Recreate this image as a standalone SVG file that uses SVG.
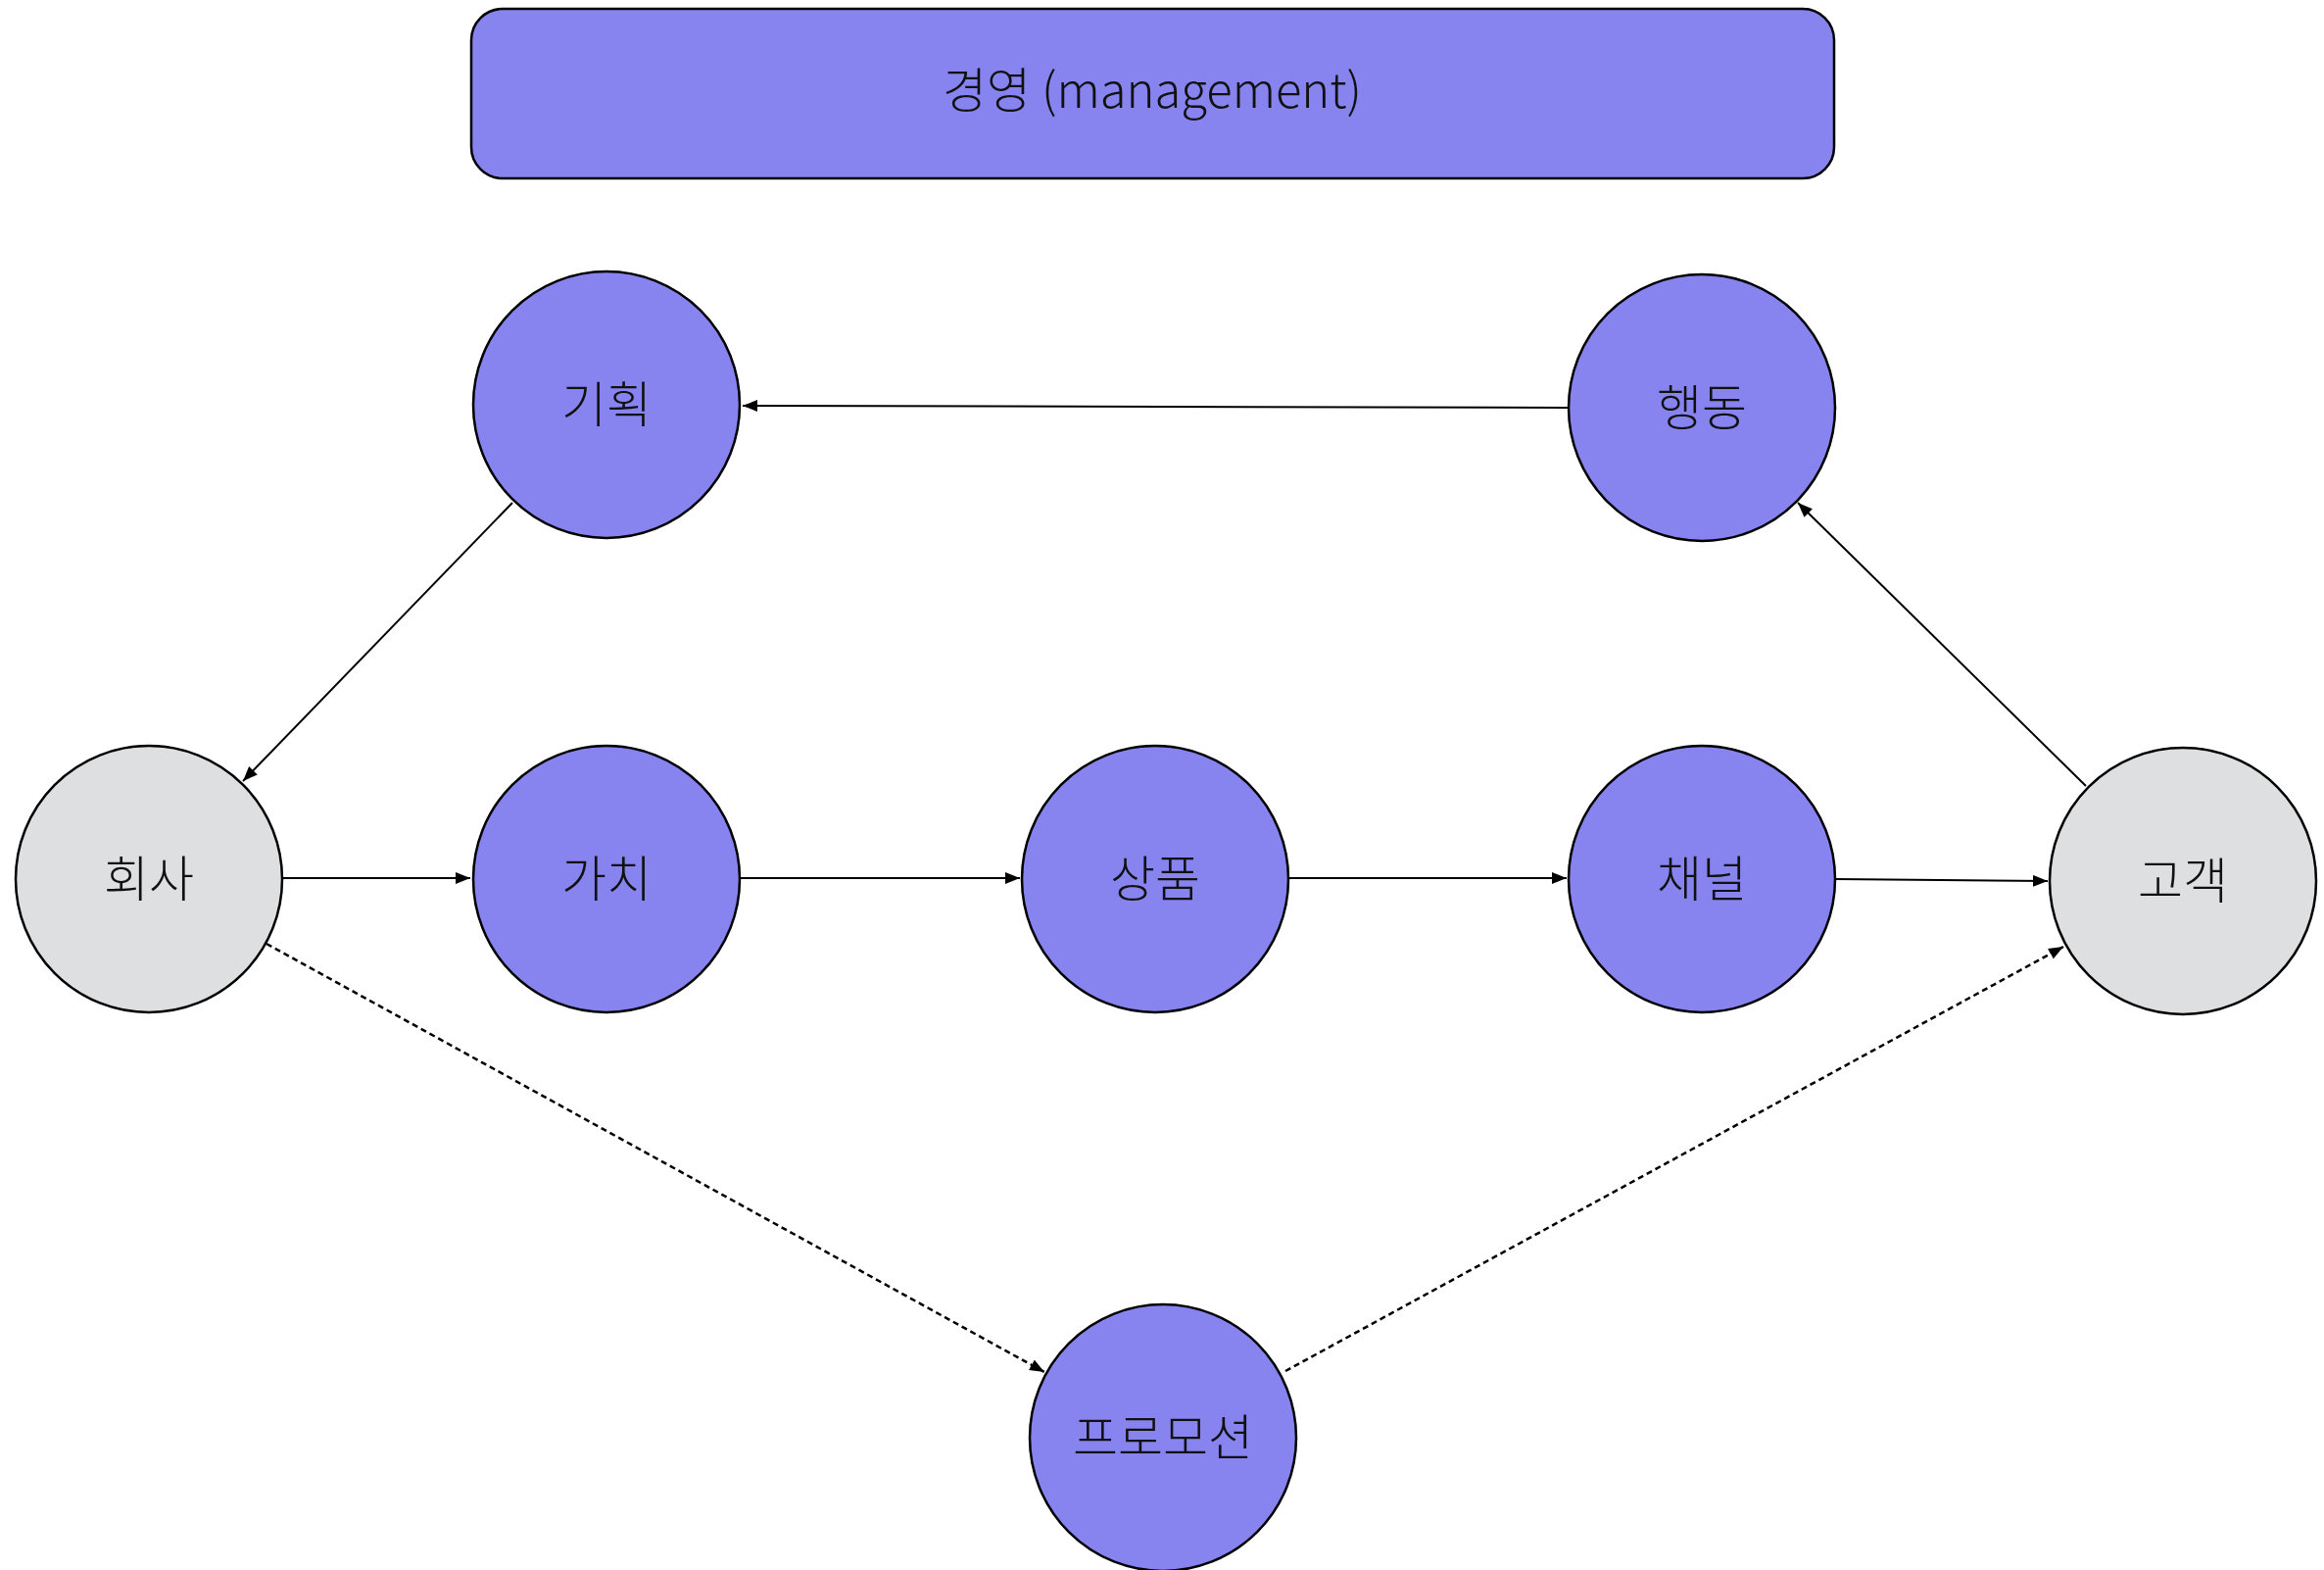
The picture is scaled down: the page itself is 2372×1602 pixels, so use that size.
<svg xmlns="http://www.w3.org/2000/svg" width="2372" height="1602" viewBox="0 0 2372 1602">
  <style>
    .node { stroke: #000; stroke-width: 2.5; }
    .main { fill: #8783EF; }
    .ext { fill: #DEDFE1; }
    .label { font-family: "Noto Sans CJK KR", "Noto Sans", sans-serif; font-size: 50px; font-weight: 300; fill: #111; text-anchor: middle; dominant-baseline: central; }
    .title { font-size: 49px; }
    .edge { fill: none; stroke: #000; stroke-width: 2; }
    .dashed { stroke-width: 2.5; stroke-dasharray: 6 4; }
  </style>
  <defs>
    <marker id="arrow" markerUnits="userSpaceOnUse" markerWidth="16" markerHeight="12" refX="15" refY="6" orient="auto">
      <path d="M0,0 L15,6 L0,12 Z" fill="#000"/>
    </marker>
  </defs>

  <rect width="2372" height="1602" fill="#fff"/>

  <g id="management">
    <rect class="node main" x="481" y="9" width="1391" height="173" rx="32" ry="32"/>
    <text class="label title" x="1176" y="88">경영 (management)</text>
  </g>

  <g id="connectors">
    <path class="edge" d="M1600,416 L758,414" marker-end="url(#arrow)"/>
    <path class="edge" d="M523,513 L248,797" marker-end="url(#arrow)"/>
    <path class="edge" d="M289,896 L480,896" marker-end="url(#arrow)"/>
    <path class="edge" d="M755,896 L1041,896" marker-end="url(#arrow)"/>
    <path class="edge" d="M1315,896 L1599,896" marker-end="url(#arrow)"/>
    <path class="edge" d="M1873,897 L2090,899" marker-end="url(#arrow)"/>
    <path class="edge" d="M2129,802 L1835,513" marker-end="url(#arrow)"/>
    <path class="edge dashed" d="M272,963 L1066,1400" marker-end="url(#arrow)"/>
    <path class="edge dashed" d="M1312,1399 L2106,966" marker-end="url(#arrow)"/>
  </g>

  <g id="planning">
    <circle class="node main" cx="619" cy="413" r="136"/>
    <text class="label" x="619" y="409">기획</text>
  </g>
  <g id="action">
    <circle class="node main" cx="1737" cy="416" r="136"/>
    <text class="label" x="1737" y="412">행동</text>
  </g>
  <g id="company">
    <circle class="node ext" cx="152" cy="897" r="136"/>
    <text class="label" x="152" y="893">회사</text>
  </g>
  <g id="value">
    <circle class="node main" cx="619" cy="897" r="136"/>
    <text class="label" x="619" y="893">가치</text>
  </g>
  <g id="product">
    <circle class="node main" cx="1179" cy="897" r="136"/>
    <text class="label" x="1179" y="893">상품</text>
  </g>
  <g id="channel">
    <circle class="node main" cx="1737" cy="897" r="136"/>
    <text class="label" x="1737" y="893">채널</text>
  </g>
  <g id="customer">
    <circle class="node ext" cx="2228" cy="899" r="136"/>
    <text class="label" x="2228" y="895">고객</text>
  </g>
  <g id="promotion">
    <circle class="node main" cx="1187" cy="1467" r="136"/>
    <text class="label" x="1187" y="1463">프로모션</text>
  </g>
</svg>
